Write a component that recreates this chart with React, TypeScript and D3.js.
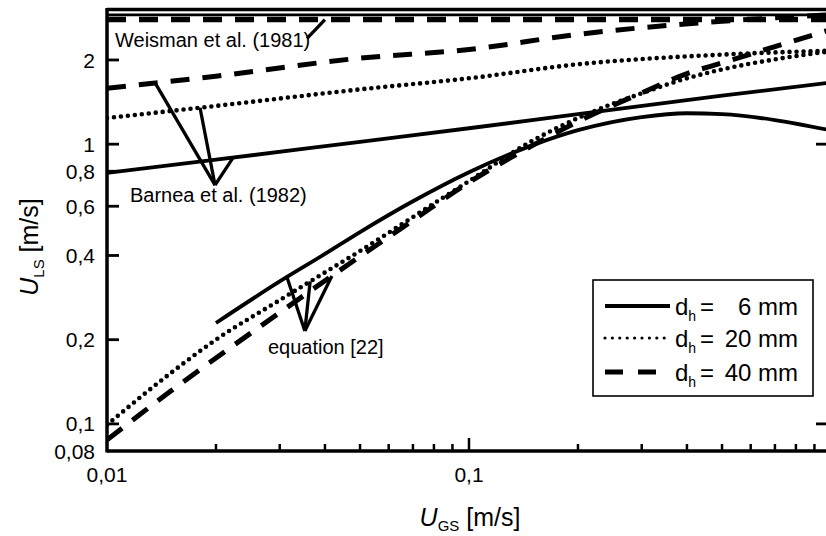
import React from 'react';
import * as d3 from 'd3';

const W = 826;
const H = 536;
const FF = "'Liberation Sans', Arial, Helvetica, sans-serif";

// Barnea et al. (1982) transition lines
const barneaX = [0.01, 0.02, 0.05, 0.1, 0.2, 0.5, 1.0];
const barnea6 = [0.79, 0.88, 1.02, 1.14, 1.28, 1.49, 1.66];
const barnea20 = [1.24, 1.37, 1.57, 1.72, 1.93, 2.09, 2.16];
const barnea40 = [1.585, 1.75, 2.03, 2.18, 2.47, 2.75, 2.9];

// equation [22]
const eq6X = [0.02, 0.03, 0.04, 0.05, 0.07, 0.1, 0.15, 0.2, 0.3, 0.4, 0.5, 0.7, 1.0];
const eq6 = [0.2295, 0.323, 0.405, 0.485, 0.625, 0.794, 0.992, 1.122, 1.25, 1.29, 1.28, 1.22, 1.12];
const eqX = [0.01, 0.015, 0.02, 0.03, 0.04, 0.05, 0.07, 0.1, 0.15, 0.2, 0.3, 0.4, 0.5, 0.7, 1.0];
const eq20 = [0.0992, 0.152, 0.2, 0.277, 0.348, 0.415, 0.549, 0.738, 1.03, 1.24, 1.52, 1.72, 1.85, 2.01, 2.15];
const eq40 = [0.0877, 0.131, 0.172, 0.25, 0.325, 0.397, 0.534, 0.73, 0.99, 1.205, 1.526, 1.787, 1.953, 2.232, 2.57];

// Weisman et al. (1981)
const weismanX = [0.01, 1.0];
const weisman6 = [2.9, 2.9];
const weisman40 = [2.79, 2.79];

// ticks
const yTickValues = [0.08, 0.1, 0.2, 0.4, 0.6, 0.8, 1, 2];
const yTickLabels = ['0,08', '0,1', '0,2', '0,4', '0,6', '0,8', '1', '2'];
const xMinorTicks = [0.02, 0.03, 0.04, 0.05, 0.06, 0.07, 0.08, 0.09, 0.2, 0.3, 0.4, 0.5, 0.6, 0.7, 0.8, 0.9];
const xMajorTicks = [0.1];
const xTickLabelValues = [0.01, 0.1];
const xTickLabels = ['0,01', '0,1'];
const rightTicks = [0.1, 1];

const legendLabels = ['6 mm', '20 mm', '40 mm'];

function interpLog(xs: number[], ys: number[], xv: number): number {
  const lx = Math.log10(xv);
  for (let i = 0; i < xs.length - 1; i++) {
    const a = Math.log10(xs[i]);
    const b = Math.log10(xs[i + 1]);
    if (lx >= a && lx <= b) {
      const t = (lx - a) / (b - a);
      return Math.pow(10, Math.log10(ys[i]) + t * (Math.log10(ys[i + 1]) - Math.log10(ys[i])));
    }
  }
  return ys[ys.length - 1];
}

export default function App() {
  const x = d3.scaleLog().domain([0.01, 1]).range([107, 831]);
  const y = d3.scaleLog().domain([0.08, 3.03]).range([451, 9.5]);
  const line = d3
    .line<[number, number]>()
    .x((d) => x(d[0]))
    .y((d) => y(d[1]))
    .curve(d3.curveMonotoneX);
  const mk = (xs: number[], ys: number[]) => line(xs.map((v, i) => [v, ys[i]] as [number, number])) || '';

  const solid = { fill: 'none', stroke: '#000', strokeWidth: 3.8 };
  const dotted = { fill: 'none', stroke: '#000', strokeWidth: 4.6, strokeDasharray: '0 7', strokeLinecap: 'round' as const };
  const dashed = { fill: 'none', stroke: '#000', strokeWidth: 5, strokeDasharray: '19 13' };

  const [x0, x1] = x.range();
  const [y0, y1] = y.range();

  // annotation pointers (data units)
  const bV: [number, number] = [0.01988, 0.714];
  const bEnds: [number, number][] = [
    [0.01358, interpLog(barneaX, barnea40, 0.01358)],
    [0.01807, interpLog(barneaX, barnea20, 0.01807)],
    [0.0223, interpLog(barneaX, barnea6, 0.0223)],
  ];
  const eV: [number, number] = [0.0352, 0.215];
  const eEnds: [number, number][] = [
    [0.0314, interpLog(eq6X, eq6, 0.0314)],
    [0.0364, interpLog(eqX, eq20, 0.0364)],
    [0.0418, interpLog(eqX, eq40, 0.0418)],
  ];
  const wFrom: [number, number] = [0.0357, 2.39];
  const wTo: [number, number] = [0.04, weisman40[0]];

  const legendRows = [solid, dotted, dashed];
  const rowBase = [315, 347, 381];

  return (
    <svg width={W} height={H} style={{ position: 'absolute', left: 0, top: 0, background: '#fff' }} fontFamily={FF}>
      <rect x={0} y={0} width={W} height={H} fill="#fff" />
      <defs>
        <clipPath id="plot">
          <rect x={x0} y={y1} width={x1 - x0} height={y0 - y1} />
        </clipPath>
      </defs>
      <g clipPath="url(#plot)">
        <path d={mk(weismanX, weisman6)} {...solid} strokeWidth={2.6} />
        <path d={mk(weismanX, weisman40)} {...dashed} strokeWidth={5.5} />
        <path d={mk(barneaX, barnea6)} {...solid} />
        <path d={mk(barneaX, barnea20)} {...dotted} />
        <path d={mk(barneaX, barnea40)} {...dashed} />
        <path d={mk(eq6X, eq6)} {...solid} />
        <path d={mk(eqX, eq20)} {...dotted} />
        <path d={mk(eqX, eq40)} {...dashed} />
      </g>

      {/* pointers */}
      {bEnds.map((e, i) => (
        <line key={'b' + i} x1={x(bV[0])} y1={y(bV[1])} x2={x(e[0])} y2={y(e[1])} stroke="#000" strokeWidth={3.3} />
      ))}
      {eEnds.map((e, i) => (
        <line key={'e' + i} x1={x(eV[0])} y1={y(eV[1])} x2={x(e[0])} y2={y(e[1])} stroke="#000" strokeWidth={3.3} />
      ))}
      <line x1={x(wFrom[0])} y1={y(wFrom[1])} x2={x(wTo[0])} y2={y(wTo[1])} stroke="#000" strokeWidth={3.3} />

      <text x={115} y={47} fontSize={20}>Weisman et al. (1981)</text>
      <text x={130} y={202} fontSize={20}>Barnea et al. (1982)</text>
      <text x={268} y={354} fontSize={20}>equation [22]</text>

      {/* frame */}
      <line x1={x0} x2={x1} y1={y1} y2={y1} stroke="#000" strokeWidth={3.5} />
      <line x1={x0} x2={x1} y1={y0} y2={y0} stroke="#000" strokeWidth={3.5} />
      <line x1={x0} x2={x0} y1={y1 - 1.5} y2={y0 + 1.5} stroke="#000" strokeWidth={3.5} />
      <line x1={x1} x2={x1} y1={y1} y2={y0} stroke="#000" strokeWidth={3.5} />

      {/* y ticks */}
      {yTickValues.slice(1).map((v) => (
        <line key={'yt' + v} x1={x0} x2={x0 + 12} y1={y(v)} y2={y(v)} stroke="#000" strokeWidth={2.8} />
      ))}
      {rightTicks.map((v) => (
        <line key={'rt' + v} x1={x1 - 15} x2={x1} y1={y(v)} y2={y(v)} stroke="#000" strokeWidth={2.8} />
      ))}
      {yTickValues.map((v, i) => (
        <text key={'yl' + v} x={95} y={y(v)} dy="0.36em" textAnchor="end" fontSize={21}>
          {yTickLabels[i]}
        </text>
      ))}

      {/* x ticks */}
      {xMinorTicks.map((v) => (
        <line key={'xm' + v} x1={x(v)} x2={x(v)} y1={y0} y2={y0 - 7} stroke="#000" strokeWidth={2.5} />
      ))}
      {xMajorTicks.map((v) => (
        <line key={'xM' + v} x1={x(v)} x2={x(v)} y1={y0} y2={y0 - 13} stroke="#000" strokeWidth={2.5} />
      ))}
      {xTickLabelValues.map((v, i) => (
        <text key={'xl' + v} x={x(v)} y={482} textAnchor="middle" fontSize={21}>
          {xTickLabels[i]}
        </text>
      ))}

      {/* axis titles */}
      <text x={470} y={526} textAnchor="middle" fontSize={25}>
        <tspan fontStyle="italic">U</tspan>
        <tspan fontSize={15} dy={5}>GS</tspan>
        <tspan dy={-5}> [m/s]</tspan>
      </text>
      <text transform="translate(38,247) rotate(-90)" textAnchor="middle" fontSize={25}>
        <tspan fontStyle="italic">U</tspan>
        <tspan fontSize={15} dy={6}>LS</tspan>
        <tspan dy={-6}> [m/s]</tspan>
      </text>

      {/* legend */}
      <rect x={593} y={280} width={220} height={116} fill="#fff" stroke="#000" strokeWidth={1.6} />
      {legendRows.map((st, i) => (
        <g key={'lg' + i}>
          <line
            x1={605}
            x2={i === 1 ? 668 : 670}
            y1={rowBase[i] - 9}
            y2={rowBase[i] - 9}
            {...st}
            strokeWidth={i === 0 ? 4.2 : i === 1 ? 3.2 : 5}
            strokeDasharray={i === 1 ? '0 7.4' : i === 2 ? '18 15' : undefined}
          />
          <text x={675} y={rowBase[i]} fontSize={24}>
            d<tspan fontSize={14} dy={6}>h</tspan>
          </text>
          <text x={700} y={rowBase[i]} fontSize={24}>=</text>
          <text x={798} y={rowBase[i]} fontSize={24} textAnchor="end">
            {legendLabels[i]}
          </text>
        </g>
      ))}
    </svg>
  );
}
